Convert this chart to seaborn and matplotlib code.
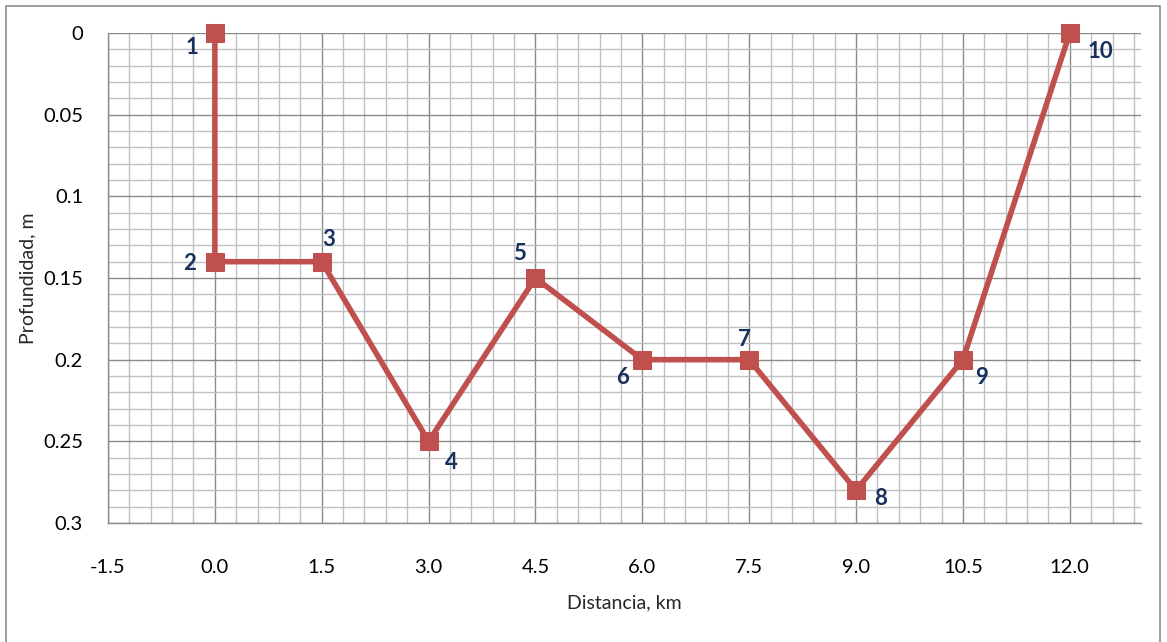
import matplotlib
matplotlib.use("Agg")
import matplotlib.pyplot as plt
from matplotlib.ticker import MultipleLocator, FixedLocator
from matplotlib.patches import Rectangle
import seaborn as sns
import pandas as pd

# data
distancia = [0.0, 0.0, 1.5, 3.0, 4.5, 6.0, 7.5, 9.0, 10.5, 12.0]
profundidad = [0.0, 0.14, 0.14, 0.25, 0.15, 0.20, 0.20, 0.28, 0.20, 0.0]
puntos = ["1", "2", "3", "4", "5", "6", "7", "8", "9", "10"]
# label offsets in pixels (dx, dy) from each marker
offsets = [(-23, -14), (-25, -2), (7, 22), (23, -21), (-16, 24),
           (-20, -18), (-5, 20), (25, -8), (19, -18), (31, -19)]

x_ticks = [-1.5, 0.0, 1.5, 3.0, 4.5, 6.0, 7.5, 9.0, 10.5, 12.0]
y_ticks = [0, 0.05, 0.1, 0.15, 0.2, 0.25, 0.3]
y_ticklabels = ["0", "0.05", "0.1", "0.15", "0.2", "0.25", "0.3"]

sns.set_style("white")
plt.rcParams['font.family'] = ['Lato', 'DejaVu Sans']

df = pd.DataFrame({"x": distancia, "y": profundidad})

fig = plt.figure(figsize=(11.67, 6.42), dpi=100)
W, H = 1167, 642
ax = fig.add_axes([108 / W, 1 - 523 / H, (1141 - 108) / W, (523 - 33) / H])

# outer chart border
fig.patches.append(Rectangle((6 / W, -0.05), (1160 - 6) / W, 1 - 6 / H + 0.05,
                             transform=fig.transFigure, fill=False,
                             edgecolor="#8c8c8c", linewidth=1.2))

sns.lineplot(data=df, x="x", y="y", sort=False, estimator=None, ax=ax,
             color="#C0504D", linewidth=4.0, marker="s", markersize=13,
             markeredgecolor="#C0504D", markerfacecolor="#C0504D",
             zorder=5, clip_on=False)

ax.set_xlim(-1.5, 13.0)
ax.set_ylim(0.3, 0.0)

ax.xaxis.set_major_locator(FixedLocator(x_ticks))
ax.xaxis.set_minor_locator(MultipleLocator(0.3))
ax.yaxis.set_major_locator(FixedLocator(y_ticks))
ax.yaxis.set_minor_locator(MultipleLocator(0.01))
ax.set_xticklabels([f"{v:.1f}" for v in x_ticks])
ax.set_yticklabels(y_ticklabels)

ax.grid(which="minor", color="#c0c0c0", linewidth=1.0)
ax.grid(which="major", color="#8a8a8a", linewidth=1.0)
ax.set_axisbelow(True)

for s in ["top", "right"]:
    ax.spines[s].set_visible(False)
for s in ["left", "bottom"]:
    ax.spines[s].set_color("#8a8a8a")
    ax.spines[s].set_linewidth(1.0)

ax.tick_params(which="major", axis="both", length=4, color="#8a8a8a",
               labelsize=14.5, labelcolor="#000000", direction="out")
ax.tick_params(which="major", axis="x", pad=22)
ax.tick_params(which="major", axis="y", pad=14)
ax.tick_params(which="minor", length=0)

ax.set_xlabel("Distancia, km", fontsize=14)
ax.set_ylabel("Profundidad, m", fontsize=14)
ax.xaxis.set_label_coords(0.5, -0.163)
ax.yaxis.set_label_coords(-0.0774, 0.5)
ax.xaxis.label.set_va("center")
ax.yaxis.label.set_va("center")

for xv, yv, lab, (dx, dy) in zip(distancia, profundidad, puntos, offsets):
    ax.annotate(lab, (xv, yv), xytext=(dx, dy), textcoords="offset pixels",
                ha="center", va="center", fontsize=16, fontweight="bold",
                color="#17305E", zorder=6)

fig.savefig("out.png", dpi=100)
